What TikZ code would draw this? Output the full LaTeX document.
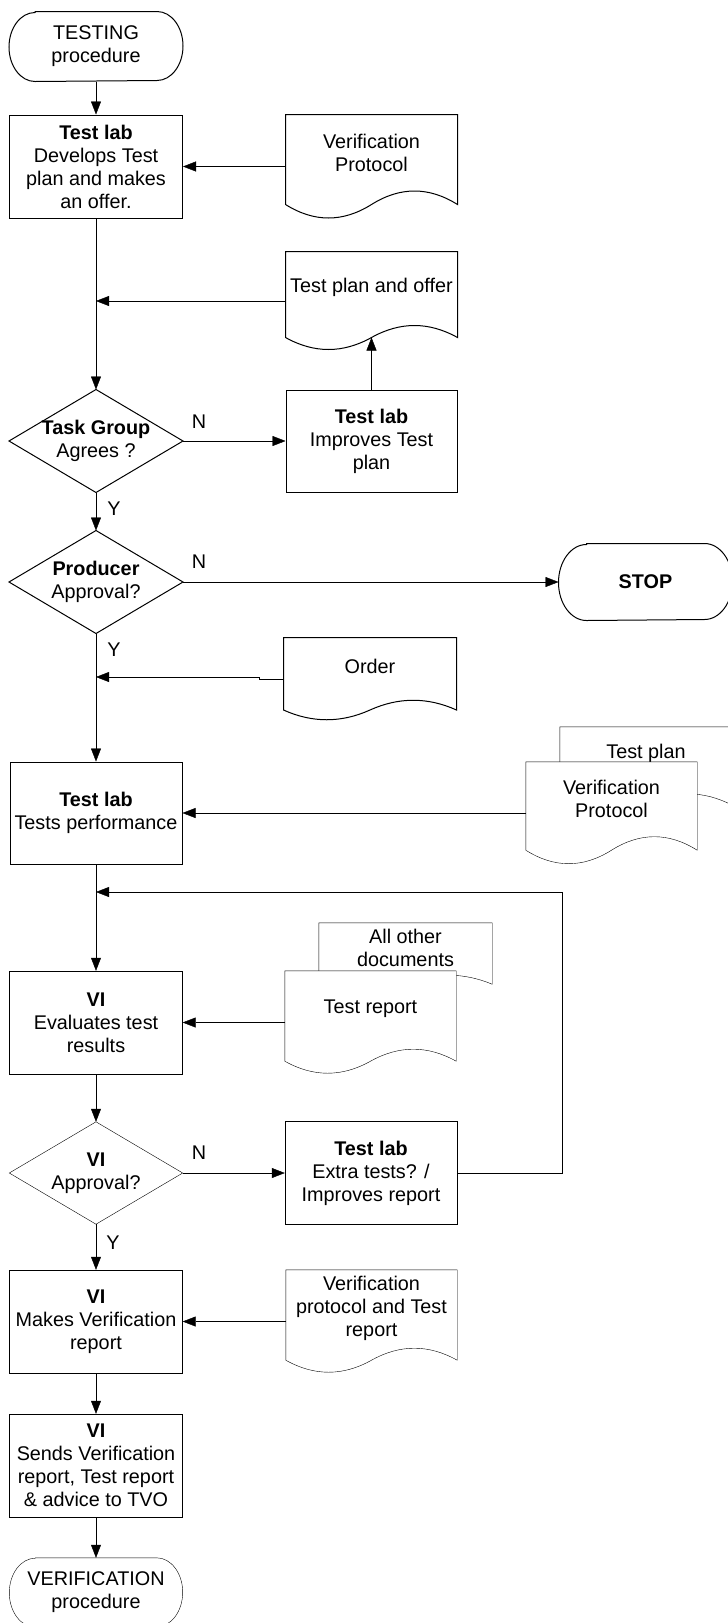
\documentclass[tikz,border=0pt]{standalone}
\usepackage{fontspec}
\setmainfont{Liberation Sans}
\usetikzlibrary{arrows.meta,calc}
\pgfdeclarelayer{back}
\pgfdeclarelayer{mid}
\pgfsetlayers{back,mid,main}
% #1 draw options, #2 node name, #3 drop from node south to wave centre line, #4 wave control offset
\newcommand\docoutline[4][]{%
  \coordinate (#2-E) at ($(#2.south east)+(0,#3)$);
  \coordinate (#2-W) at ($(#2.south west)+(0,#3)$);
  \coordinate (#2-M) at ($(#2.south)+(0,#3)$);
  \draw[#1] (#2.north west) -- (#2.north east) -- (#2-E)
    .. controls ($(#2-E)!0.3333!(#2-M)+(0,-#4)$) and ($(#2-E)!0.6667!(#2-M)+(0,-#4)$) .. (#2-M)
    .. controls ($(#2-M)!0.3333!(#2-W)+(0,#4)$) and ($(#2-M)!0.6667!(#2-W)+(0,#4)$) .. (#2-W) -- cycle;
}
% #1 node name, #2 horizontal radius, #3 vertical radius (half height)
\newcommand\termoutline[3]{%
  \draw ($(#1.north west)+(#2,0)$) -- ($(#1.north east)+(-#2,0)$)
    arc[start angle=90, end angle=-90, x radius=#2pt, y radius=#3pt]
    -- ($(#1.south west)+(#2,0)$)
    arc[start angle=270, end angle=90, x radius=#2pt, y radius=#3pt] -- cycle;
}
\begin{document}
\begin{tikzpicture}[x=1pt,y=-1pt,
  font=\fontsize{19.8}{23}\selectfont,
  line width=1pt,
  >={Triangle[length=13pt,width=10pt]},
  proc/.style={draw, rectangle, minimum width=173pt, minimum height=103pt, align=center, inner sep=1pt},
  term/.style={rectangle, minimum width=173pt, minimum height=69pt, align=center, inner sep=1pt},
  decbox/.style={rectangle, minimum width=173pt, minimum height=102pt, align=center, inner sep=0pt},
  docbox/.style={rectangle, minimum width=171pt, align=center, inner sep=0pt},
  lbl/.style={inner sep=0pt}
]
\useasboundingbox (0,0) rectangle (728,1623);

% ---------- nodes ----------
\node[term] (t1) at (96,46.5) {TESTING\\procedure};
\termoutline{t1}{26}{34.5}
\node[proc] (b1) at (96,166.5) {\textbf{Test lab}\\Develops Test\\plan and makes\\an offer.};

\node[docbox, minimum height=75pt] (vp1) at (371.5,152.5) {Verification\\Protocol};
\docoutline{vp1}{14}{18}

\node[docbox, minimum height=71pt] (tpo) at (371.5,287.5) {Test plan and offer};
\docoutline{tpo}{14}{16}

\node[decbox] (tg) at (96,441) {\textbf{Task Group}\\Agrees ?};
\draw (tg.north) -- (tg.east) -- (tg.south) -- (tg.west) -- cycle;

\node[proc, minimum width=171pt, minimum height=102pt] (tl2) at (371.5,441) {\textbf{Test lab}\\Improves Test\\plan};

\node[decbox] (pr) at (96,582) {\textbf{Producer}\\Approval?};
\draw (pr.north) -- (pr.east) -- (pr.south) -- (pr.west) -- cycle;

\node[term, minimum height=76pt] (stop) at (645.5,582) {\textbf{STOP}};
\termoutline{stop}{28}{38}

\node[docbox, minimum width=172pt, minimum height=57.5pt] (order) at (370,666.75) {Order};
\docoutline{order}{14}{13}

\node[proc, minimum width=172pt, minimum height=102pt] (perf) at (96,813) {\textbf{Test lab}\\Tests performance};

\begin{pgfonlayer}{back}
\node[docbox, minimum width=172pt, minimum height=52pt] (tp) at (646,753) {Test plan};
\docoutline{tp}{26}{15}
\end{pgfonlayer}
\node[docbox, minimum height=74pt] (vp2) at (611.5,799) {Verification\\Protocol};
\begin{pgfonlayer}{mid}
\docoutline[fill=white]{vp2}{14}{18}
\end{pgfonlayer}

\node[proc] (ev) at (96,1022.5) {\textbf{VI}\\Evaluates test\\results};

\begin{pgfonlayer}{back}
\node[docbox, minimum width=173pt, minimum height=50pt] (aod) at (405.5,948) {All other\\documents};
\docoutline{aod}{11}{12}
\end{pgfonlayer}
\node[docbox, minimum height=76pt] (tr) at (370.5,1009) {Test report};
\begin{pgfonlayer}{mid}
\docoutline[fill=white]{tr}{14}{16}
\end{pgfonlayer}

\node[decbox] (vd) at (96,1173) {\textbf{VI}\\Approval?};
\draw (vd.north) -- (vd.east) -- (vd.south) -- (vd.west) -- cycle;

\node[proc, minimum width=172pt] (ex) at (371,1173) {\textbf{Test lab}\\Extra tests? /\\Improves report};

\node[proc] (mk) at (96,1321.5) {\textbf{VI}\\Makes Verification\\report};

\node[docbox, minimum height=76pt] (vpt) at (371.5,1308) {Verification\\protocol and Test\\report};
\docoutline{vpt}{14}{16}

\node[proc] (sd) at (96,1465.5) {\textbf{VI}\\Sends Verification\\report, Test report\\\& advice to TVO};

\node[term] (t2) at (96,1592.5) {VERIFICATION\\procedure};
\termoutline{t2}{26}{34.5}

% ---------- labels ----------
\node[lbl] (n1) at (199,422) {N};
\node[lbl] (y1) at (114,509) {Y};
\node[lbl] (n2) at (199,562) {N};
\node[lbl] (y2) at (114,650) {Y};
\node[lbl] (n3) at (199,1153) {N};
\node[lbl] (y3) at (113,1243) {Y};

% ---------- connectors ----------
\coordinate (j1) at (96,301);
\coordinate (oj) at (259,679);
\coordinate (j2) at (96,677);
\coordinate (j3) at (96,892);
\coordinate (lp) at (562,892);

\draw[->] (t1) -- (b1);
\draw[->] (vp1.west |- b1.east) -- (b1.east);
\draw[->] (b1) -- (tg.north);
\draw[->] (tpo.west |- j1) -- (j1);
\draw[->] (tg.east) -- (tl2.west);
\draw[->] (tl2.north) -- (tpo-M);
\draw[->] (tg.south) -- (pr.north);
\draw[->] (pr.east) -- (stop.west);
\draw[->] (pr.south) -- (perf.north);
\draw[->] (order.west |- oj) -- (oj) -- ++(0,-2) -- (j2);
\draw[->] (vp2.west |- perf.east) -- (perf.east);
\draw[->] (perf.south) -- (ev.north);
\draw[->] (ex.east) -| (lp) -- (j3);
\draw[->] (tr.west |- ev.east) -- (ev.east);
\draw[->] (ev) -- (vd.north);
\draw[->] (vd.east) -- (ex.west);
\draw[->] (vd.south) -- (mk.north);
\draw[->] (vpt.west |- mk.east) -- (mk.east);
\draw[->] (mk) -- (sd);
\draw[->] (sd) -- (t2);
\end{tikzpicture}
\end{document}
